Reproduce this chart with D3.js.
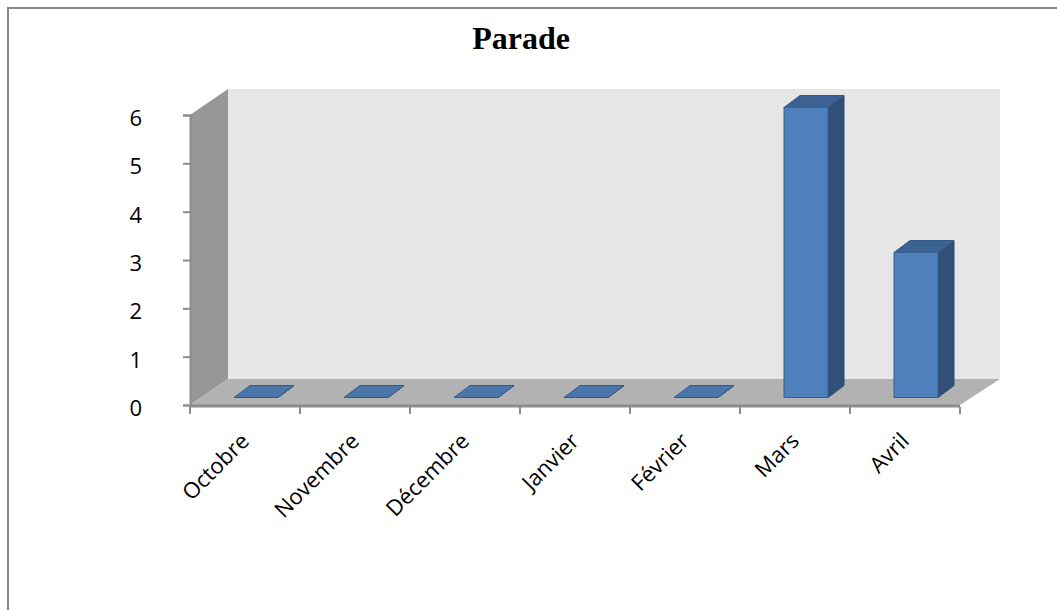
<!DOCTYPE html>
<meta charset="utf-8">
<title>Parade</title>
<style>
body { margin: 0; background: white; }
svg { display: block; }
.axis text { font-family: "Open Sans", Calibri, sans-serif; font-size: 22px; fill: black; }
</style>
<body>
<div id="chart"></div>
<script src="https://d3js.org/d3.v7.min.js"></script>
<script>
// data
var months = ["Octobre", "Novembre", "Décembre", "Janvier", "Février", "Mars", "Avril"];
var values = [0, 0, 0, 0, 0, 6, 3];
var yTicks = [0, 1, 2, 3, 4, 5, 6];

var W = 1057, H = 610;
var plotLeft = 190, plotRight = 960, plotBottom = 405, plotTop = 115;
var depth = {x: 38, y: -26};          // wall depth
var front = {x: 11, y: -7.5};         // bar front offset
var bdepth = {x: 16, y: -12};         // bar depth

var svg = d3.select("#chart").append("svg")
    .attr("width", W)
    .attr("height", H);

// outer frame
svg.append("rect")
    .attr("x", 8).attr("y", 8)
    .attr("width", W + 20).attr("height", H + 20)
    .attr("fill", "white")
    .attr("stroke", "#878787")
    .attr("stroke-width", 2);

svg.append("text")
    .attr("x", 521).attr("y", 49)
    .attr("text-anchor", "middle")
    .style("font-family", "'Liberation Serif', 'Times New Roman', serif")
    .style("font-weight", "bold")
    .style("font-size", "32px")
    .text("Parade");

var x = d3.scaleBand()
    .domain(months)
    .range([plotLeft, plotRight])
    .paddingInner(0.6)
    .paddingOuter(0.3);

var y = d3.scaleLinear()
    .domain([0, 6])
    .range([plotBottom, plotTop]);

function pts(a) { return a.map(function(p) { return p.join(","); }).join(" "); }

var yMax = y(6), yMin = plotBottom;

// back wall
svg.append("polygon")
    .attr("points", pts([[plotLeft + depth.x, yMax + depth.y], [plotRight + depth.x + 2, yMax + depth.y],
                         [plotRight + depth.x + 2, yMin + depth.y], [plotLeft + depth.x, yMin + depth.y]]))
    .attr("fill", "#e6e6e6");

// left wall
svg.append("polygon")
    .attr("points", pts([[plotLeft, yMax], [plotLeft + depth.x, yMax + depth.y],
                         [plotLeft + depth.x, yMin + depth.y], [plotLeft, yMin]]))
    .attr("fill", "#979797");

// floor
svg.append("polygon")
    .attr("points", pts([[plotLeft, yMin], [plotLeft + depth.x, yMin + depth.y],
                         [plotRight + depth.x + 2, yMin + depth.y], [plotRight, yMin]]))
    .attr("fill", "#b2b2b2");
svg.append("line")
    .attr("x1", plotLeft).attr("x2", plotRight)
    .attr("y1", yMin + 1).attr("y2", yMin + 1)
    .attr("stroke", "#8c8c8c").attr("stroke-width", 3);

// y axis
var yAxis = svg.append("g")
    .attr("class", "axis")
    .attr("transform", "translate(" + plotLeft + ",0)")
    .call(d3.axisLeft(y).tickValues(yTicks).tickSize(7).tickPadding(41).tickFormat(d3.format("d")));
yAxis.select(".domain").attr("stroke", "#8c8c8c").attr("stroke-width", 2);
yAxis.selectAll(".tick line").attr("stroke", "#8c8c8c").attr("stroke-width", 2);
yAxis.selectAll(".tick text").attr("dy", "0.48em");

// x axis ticks at band edges
var edges = d3.range(months.length + 1);
var xe = d3.scaleLinear().domain([0, months.length]).range([plotLeft, plotRight]);
svg.append("g").selectAll("line")
    .data(edges)
    .enter().append("line")
    .attr("x1", function(d) { return xe(d); })
    .attr("x2", function(d) { return xe(d); })
    .attr("y1", yMin + 2).attr("y2", yMin + 9)
    .attr("stroke", "#8c8c8c").attr("stroke-width", 2);

svg.append("g").attr("class", "axis")
    .selectAll("text")
    .data(months)
    .enter().append("text")
    .attr("transform", function(d) {
        return "translate(" + (x(d) + x.bandwidth() / 2) + "," + (yMin + 32) + ")rotate(-45)";
    })
    .attr("text-anchor", "end")
    .attr("dy", "0.35em")
    .text(function(d) { return d; });

// bars
var bars = svg.append("g").selectAll("g")
    .data(months.map(function(m, i) { return {m: m, v: values[i]}; }))
    .enter().append("g");

bars.append("polygon") // side
    .attr("points", function(d) {
        var x1 = x(d.m) + front.x + x.bandwidth(), yb = yMin + front.y, yt = y(d.v) + front.y;
        return pts([[x1, yb], [x1 + bdepth.x, yb + bdepth.y], [x1 + bdepth.x, yt + bdepth.y], [x1, yt]]);
    })
    .attr("fill", "#30507a")
    .attr("stroke", "#2c4a70");

bars.append("polygon") // top
    .attr("points", function(d) {
        var x0 = x(d.m) + front.x, x1 = x0 + x.bandwidth(), yt = y(d.v) + front.y;
        return pts([[x0, yt], [x1, yt], [x1 + bdepth.x, yt + bdepth.y], [x0 + bdepth.x, yt + bdepth.y]]);
    })
    .attr("fill", function(d) { return d.v ? "#3b6293" : "#4a76aa"; })
    .attr("stroke", "#34598a");

bars.append("rect") // front
    .attr("x", function(d) { return x(d.m) + front.x; })
    .attr("y", function(d) { return y(d.v) + front.y; })
    .attr("width", x.bandwidth())
    .attr("height", function(d) { return yMin - y(d.v); })
    .attr("fill", "#4f81bd")
    .attr("stroke", "#3a5f8c");
</script>
</body>
